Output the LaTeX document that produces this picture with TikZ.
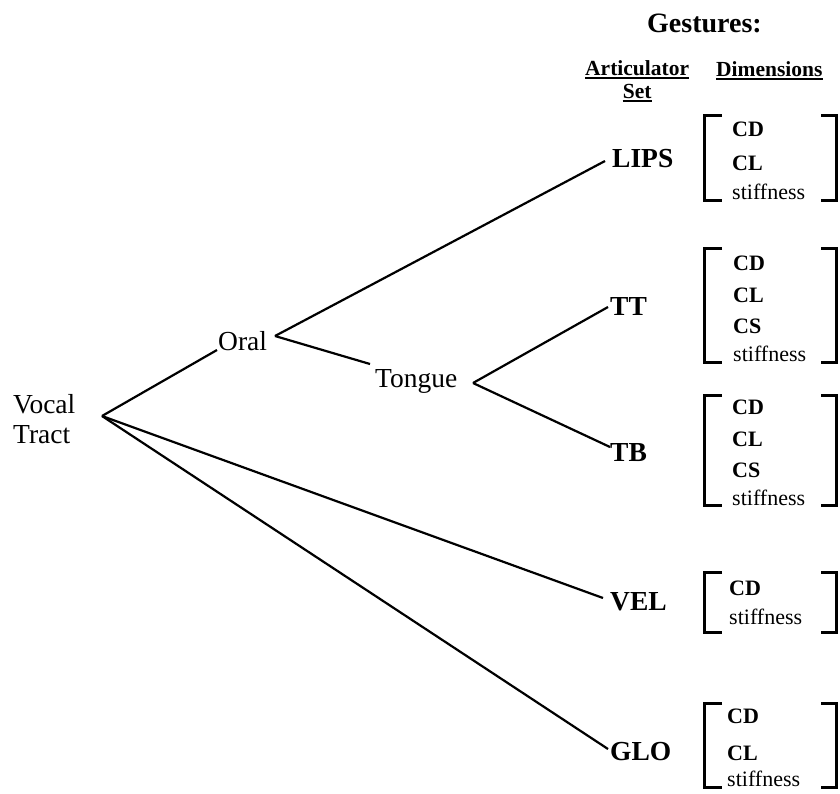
\documentclass[tikz,border=0pt]{standalone}
\usepackage{fontspec}
\setmainfont{Liberation Serif}
% square bracket pair around a list of gesture dimensions: #1 top, #2 bottom
\newcommand\dimbracket[2]{%
  \draw[brk] (722,#1) -| (704,#2) -- (722,#2);
  \draw[brk] (821,#1) -| (836,#2) -- (821,#2);}
\begin{document}
\begin{tikzpicture}[x=1pt,y=-1pt,
  lbl/.style={anchor=base west, inner sep=0pt, font=\fontsize{27.5}{30}\selectfont},
  art/.style={anchor=base west, inner sep=0pt, font=\fontsize{27.5}{30}\selectfont\bfseries},
  title/.style={anchor=base west, inner sep=0pt, font=\fontsize{28}{32}\selectfont\bfseries},
  head/.style={anchor=base west, inner sep=0pt, font=\fontsize{21.5}{24}\selectfont\bfseries},
  dimb/.style={anchor=base west, inner sep=0pt, font=\fontsize{22}{24}\selectfont\bfseries},
  dimr/.style={anchor=base west, inner sep=0pt, font=\fontsize{22}{24}\selectfont},
  branch/.style={line width=2.2pt},
  brk/.style={line width=3pt},
  uline/.style={line width=1.8pt}]
\fill[white] (0,0) rectangle (840,793);
\useasboundingbox (0,0) rectangle (840,793);

% column headings
\node[title] (gest) at (647,32) {Gestures:};
\node[head] (artic) at (585,75) {Articulator};
\node[head, anchor=base] (artset) at (artic.base |- 0,98) {Set};
\node[head] (dims) at (716,76) {Dimensions};
\foreach \n in {artic,artset,dims}
  \draw[uline] ([yshift=-3pt]\n.base west) -- ([yshift=-3pt]\n.base east);

% tree nodes
\node[lbl] (vocal) at (13,413) {Vocal};
\node[lbl] (tract) at (13,443) {Tract};
\node[lbl] (oral) at (218,350) {Oral};
\node[lbl] (tongue) at (375,387) {Tongue};
\node[art] (lips) at (612,167) {LIPS};
\node[art] (tt) at (610,315) {TT};
\node[art] (tb) at (610,461) {TB};
\node[art] (vel) at (610,610) {VEL};
\node[art] (glo) at (610,760) {GLO};

% branching points
\coordinate (vtj) at (102,416);
\coordinate (oralj) at (275,336);
\coordinate (tonguej) at (473,383);

% branches
\draw[branch] (vtj) -- ([xshift=-1pt]oral.base west);
\draw[branch] (vtj) -- ([shift={(-7pt,12pt)}]vel.base west);
\draw[branch] (vtj) -- ([shift={(-2pt,11pt)}]glo.base west);
\draw[branch] (oralj) -- ([shift={(-7pt,6pt)}]lips.base west);
\draw[branch] (oralj) -- ([shift={(-5pt,23pt)}]tongue.base west);
\draw[branch] (tonguej) -- ([shift={(-2pt,8pt)}]tt.base west);
\draw[branch] (tonguej) -- ([shift={(0pt,14pt)}]tb.base west);

% dimensions of each articulator set
\dimbracket{115}{200}
\node[dimb] (lipscd) at (732,136) {CD};
\node[dimb] (lipscl) at (732,170) {CL};
\node[dimr] (lipsst) at (732,199) {stiffness};

\dimbracket{248}{362}
\node[dimb] (ttcd) at (733,270) {CD};
\node[dimb] (ttcl) at (733,302) {CL};
\node[dimb] (ttcs) at (733,333) {CS};
\node[dimr] (ttst) at (733,361) {stiffness};

\dimbracket{395}{505}
\node[dimb] (tbcd) at (732,414) {CD};
\node[dimb] (tbcl) at (732,446) {CL};
\node[dimb] (tbcs) at (732,477) {CS};
\node[dimr] (tbst) at (732,505) {stiffness};

\dimbracket{572}{632}
\node[dimb] (velcd) at (729,595) {CD};
\node[dimr] (velst) at (729,624) {stiffness};

\dimbracket{703}{787}
\node[dimb] (glocd) at (727,723) {CD};
\node[dimb] (glocl) at (727,760) {CL};
\node[dimr] (glost) at (727,786) {stiffness};
\end{tikzpicture}
\end{document}
